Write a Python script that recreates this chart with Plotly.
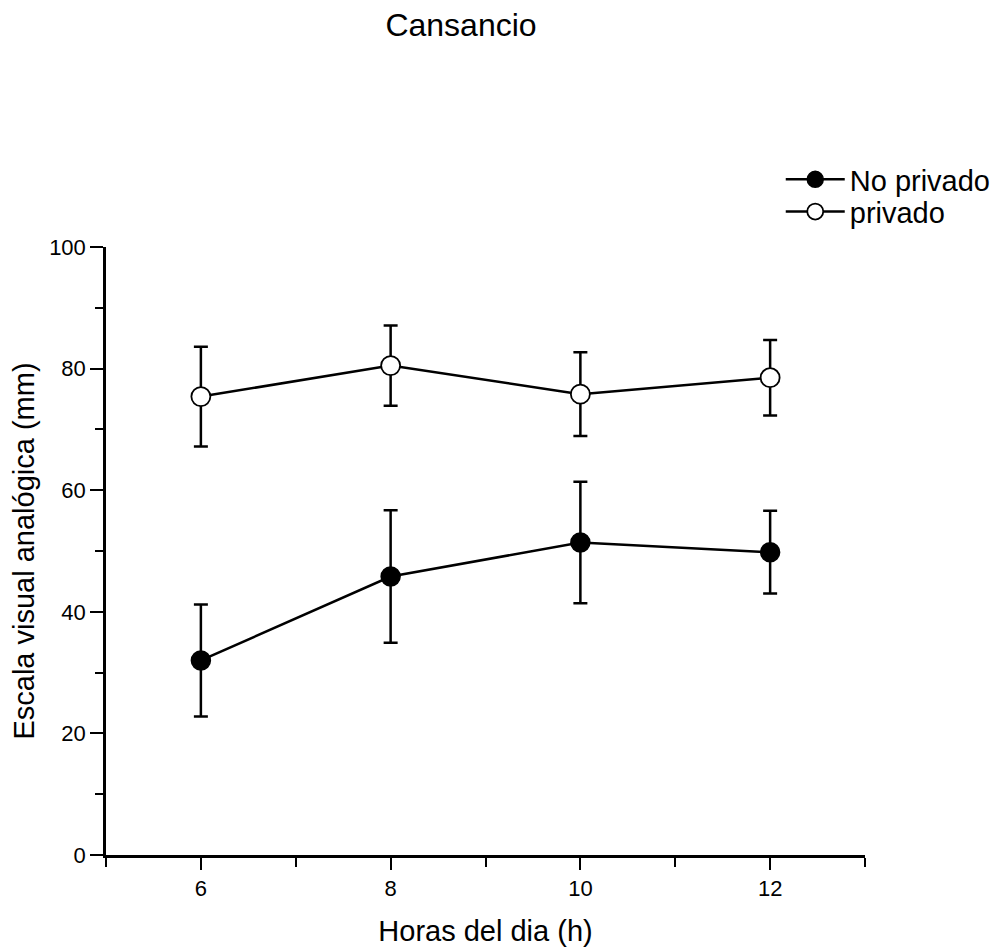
import plotly.graph_objects as go

hours = [6, 8, 10, 12]
no_privado = [32.0, 45.8, 51.4, 49.8]
no_privado_err = [9.2, 10.9, 10.0, 6.8]
privado = [75.4, 80.5, 75.8, 78.5]
privado_err = [8.2, 6.6, 6.9, 6.2]

x_ticks = [6, 8, 10, 12]
x_minor = [5, 7, 9, 11, 13]
y_ticks = [0, 20, 40, 60, 80, 100]
y_minor = [10, 30, 50, 70, 90]

FONT = "Liberation Sans, Arial, sans-serif"

fig = go.Figure()
fig.add_trace(go.Scatter(
    x=hours, y=no_privado, name="No privado", mode="lines+markers", legend="legend",
    line=dict(color="black", width=2.5),
    marker=dict(symbol="circle", size=19, color="black", line=dict(color="black", width=1.5)),
    error_y=dict(type="data", array=no_privado_err, visible=True, color="black", thickness=2.5, width=7),
))
fig.add_trace(go.Scatter(
    x=hours, y=privado, name="privado", mode="lines+markers", legend="legend2",
    line=dict(color="black", width=2.5),
    marker=dict(symbol="circle", size=19, color="white", line=dict(color="black", width=1.8)),
    error_y=dict(type="data", array=privado_err, visible=True, color="black", thickness=2.5, width=7),
))

leg_common = dict(x=0.889, xanchor="left", yanchor="top", bgcolor="rgba(0,0,0,0)",
                  font=dict(size=29, family=FONT, color="black"), itemwidth=59)

fig.update_layout(
    width=1000, height=952,
    paper_bgcolor="white", plot_bgcolor="white",
    margin=dict(l=98, r=143, t=239, b=105),
    font=dict(family=FONT, color="black", size=22),
    title=dict(text="Cansancio", x=0.453, xanchor="center", y=0.982, yanchor="middle",
               font=dict(size=32, family=FONT, color="black")),
    showlegend=True,
    legend=dict(y=1.153, **leg_common),
    legend2=dict(y=1.100, **leg_common),
)
fig.update_xaxes(
    range=[5, 13], showgrid=False, zeroline=False,
    showline=True, linecolor="black", linewidth=2.5,
    tickmode="array", tickvals=x_ticks, ticks="outside", ticklen=12, tickwidth=2, tickcolor="black",
    tickfont=dict(size=22, family=FONT, color="black"),
    minor=dict(tickmode="array", tickvals=x_minor, ticks="outside", ticklen=9, tickwidth=2, tickcolor="black", showgrid=False),
    title=dict(text="Horas del dia (h)", font=dict(size=29, family=FONT, color="black"), standoff=21),
)
fig.update_yaxes(
    range=[0, 100], showgrid=False, zeroline=False,
    showline=True, linecolor="black", linewidth=2.5,
    tickmode="array", tickvals=y_ticks, ticks="outside", ticklen=13, tickwidth=2, tickcolor="black",
    tickfont=dict(size=22, family=FONT, color="black"),
    minor=dict(tickmode="array", tickvals=y_minor, ticks="outside", ticklen=8, tickwidth=2, tickcolor="black", showgrid=False),
    title=dict(text="Escala visual analógica (mm)", font=dict(size=29, family=FONT, color="black"), standoff=6),
)

fig.write_html("out.html")
